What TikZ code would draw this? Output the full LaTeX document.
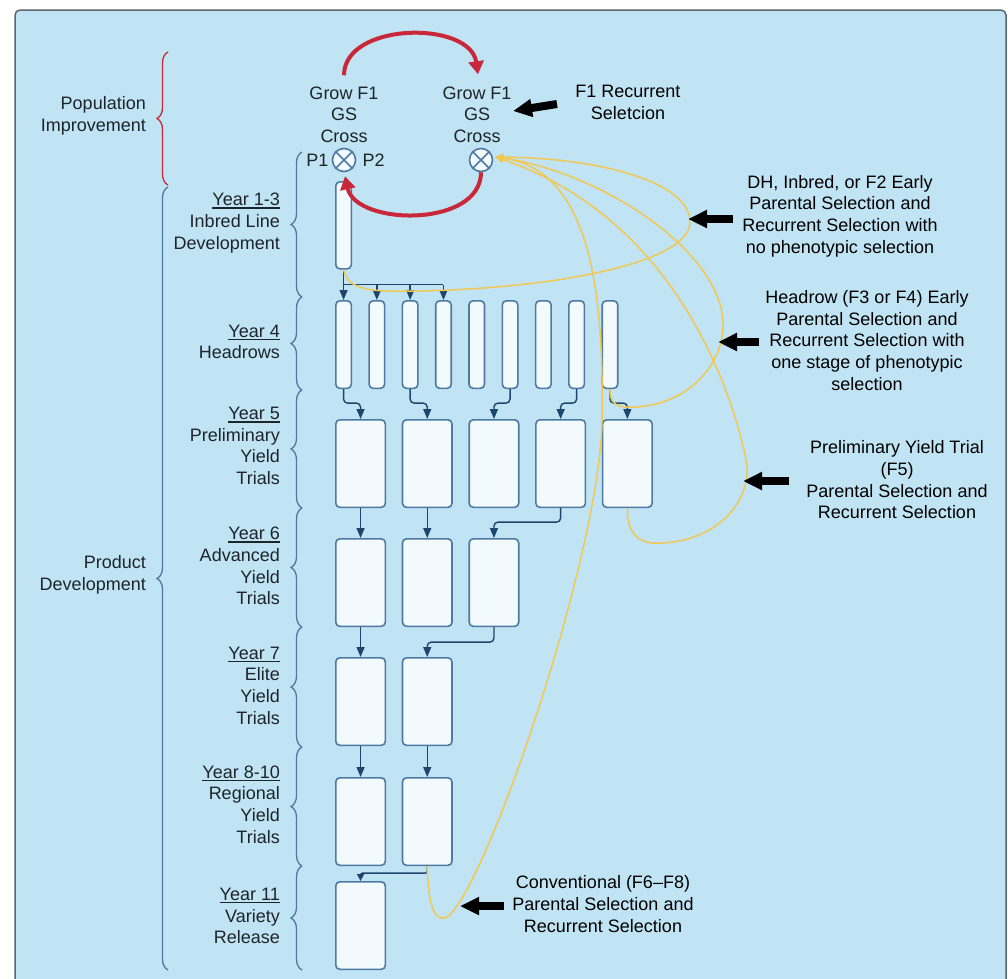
\documentclass[tikz,border=0pt]{standalone}
\usepackage{fontspec}
\setmainfont{Liberation Sans}
\usetikzlibrary{positioning,calc,arrows.meta,decorations.pathreplacing}

\definecolor{panelblue}{RGB}{192,228,244}
\definecolor{panelrim}{RGB}{92,102,110}
\definecolor{boxrim}{RGB}{78,122,162}
\definecolor{boxfill}{RGB}{243,250,254}
\definecolor{flowblue}{RGB}{30,70,108}
\definecolor{cyclered}{RGB}{201,40,58}
\definecolor{selgold}{RGB}{241,200,84}
\definecolor{labelink}{RGB}{30,36,44}

% underlined year heading
\newcommand\yearul[1]{\leavevmode\setbox0\hbox{#1}\rlap{\rule[-3pt]{\wd0}{1.3pt}}\box0}

\tikzset{
  lbl/.style={font=\fontsize{18}{21.7}\selectfont, text=labelink, inner sep=0pt, align=center},
  yearlbl/.style={lbl, align=right, anchor=east},
  notelbl/.style={lbl, text=black},
  trial/.style={draw=boxrim, line width=1.6pt, fill=boxfill, rounded corners=4pt,
                minimum width=49.5pt, minimum height=87.5pt, inner sep=0pt, anchor=north west},
  headrow/.style={trial, minimum width=15.5pt},
  crossnode/.style={circle, draw=boxrim, line width=1.6pt, fill=boxfill, minimum size=23pt, inner sep=0pt},
  flowline/.style={draw=flowblue, line width=1.4pt, rounded corners=4pt},
  flowarr/.style={flowline, -{Triangle[width=8pt,length=10pt]}},
  cyclearr/.style={draw=cyclered, line width=4pt, -{Triangle[width=15pt,length=13pt]}},
  selcurve/.style={draw=selgold, line width=1.5pt, -{Triangle[width=7pt,length=8pt]}},
  fatarr/.style={draw=black, line width=8pt, -{Triangle[width=17pt,length=19pt]}},
  stagebrace/.style={decorate, decoration={brace, amplitude=11pt}, draw=boxrim, line width=1.3pt},
}

\begin{document}
\begin{tikzpicture}[x=1pt,y=-1pt]
\path[use as bounding box] (0,0) rectangle (1008,978);
\clip (0,0) rectangle (1008,978);
\fill[white] (0,0) rectangle (1008,978);
% panel
\draw[fill=panelblue, draw=panelrim, line width=1.5pt, rounded corners=5pt] (15,10) rectangle (1006,995);

% braces
\draw[stagebrace, draw=cyclered] (168,185) -- (168,52);
\draw[stagebrace] (168,970) -- (168,187);
\foreach \lo/\hi in {297/152,390/297,508/390,627/508,747/627,866/747,970/866}
  \draw[stagebrace] (302,\lo) -- (302,\hi);

\node[yearlbl] (popimp) at (146,116) {Population\\Improvement};
\node[yearlbl] (proddev) at (146,575) {Product\\Development};

\node[yearlbl] (yr13) at (280,223) {\yearul{Year 1-3}\\Inbred Line\\Development};
\node[yearlbl] (yr4) at (280,342) {\yearul{Year 4}\\Headrows};
\node[yearlbl] (yr5) at (280,446) {\yearul{Year 5}\\Preliminary\\Yield\\Trials};
\node[yearlbl] (yr6) at (280,566) {\yearul{Year 6}\\Advanced\\Yield\\Trials};
\node[yearlbl] (yr7) at (280,685.5) {\yearul{Year 7}\\Elite\\Yield\\Trials};
\node[yearlbl] (yr810) at (280,804.5) {\yearul{Year 8-10}\\Regional\\Yield\\Trials};
\node[yearlbl] (yr11) at (280,916) {\yearul{Year 11}\\Variety\\Release};

% crosses
\node[lbl] (growA) at (344,114.5) {Grow F1\\GS\\Cross};
\node[lbl] (growB) at (477,114.5) {Grow F1\\GS\\Cross};
\node[crossnode] (crossA) at (344,160) {};
\node[crossnode] (crossB) at (481,160) {};
\foreach \c in {crossA,crossB}
  \draw[boxrim, line width=1.6pt] (\c.north west) -- (\c.south east) (\c.north east) -- (\c.south west);
\node[lbl, left=3pt of crossA] (parA) {P1};
\node[lbl, right=6pt of crossA] (parB) {P2};

% boxes
\node[headrow, minimum height=87pt] (inbred) at (335,181) {};
\foreach \i in {1,...,9}
  \node[headrow] (hr\i) at ({335+33.3*(\i-1)},300) {};
\foreach \i in {1,...,5}
  \node[trial] (pyt\i) at ({335+66.7*(\i-1)},419) {};
\foreach \i in {1,2,3}
  \node[trial] (adv\i) at ({335+66.7*(\i-1)},538) {};
\foreach \i in {1,2}
  \node[trial] (elite\i) at ({335+66.7*(\i-1)},657) {};
\foreach \i in {1,2}
  \node[trial] (reg\i) at ({335+66.7*(\i-1)},777) {};
\node[trial] (var1) at (335,881) {};

% flow between stages
\draw[flowarr] (inbred.south) -- (hr1.north);
\coordinate (bus) at ($(inbred.south)+(0,15)$);
\draw[flowline] (bus) -- (bus -| hr4.north);
\foreach \j in {2,3,4}
  \draw[flowarr] (bus -| hr\j.north) -- (hr\j.north);
\foreach \a/\b in {1/1,3/2,6/3,8/4,9/5}
  \draw[flowarr] (hr\a.south) -- ++(0,14) -| (pyt\b.north);
\draw[flowarr] (pyt1.south) -- (adv1.north);
\draw[flowarr] (pyt2.south) -- (adv2.north);
\draw[flowarr] (pyt4.south) -- ++(0,14) -| (adv3.north);
\draw[flowarr] (adv1.south) -- (elite1.north);
\draw[flowarr] (adv3.south) -- ++(0,15) -| (elite2.north);
\draw[flowarr] (elite1.south) -- (reg1.north);
\draw[flowarr] (elite2.south) -- (reg2.north);
\draw[flowline, rounded corners=2pt, -{Triangle[width=7pt,length=7pt]}] (reg2.south) -- ++(0,7) -| (var1.north);

% recurrent cycle
\draw[cyclearr] ($(growA.north)+(0,-11)$) .. controls (344,22) and (470,20) .. ($(growB.north)+(1,-12)$);
\draw[cyclearr] (crossB.south) .. controls (481,228) and (356,226) .. ($(crossA.south)+(1,4)$);

% selection routes back to the cross
\coordinate (gsin) at ($(crossB.east)+(2,-3)$);
\draw[selcurve] (inbred.south) .. controls (348,291) and (372,292) .. (420,291)
   .. controls (560,288) and (690,262) .. (690,222)
   .. controls (690,182) and (600,158) .. (gsin);
\draw[selcurve] (hr9.south) .. controls (610,404) and (616,408) .. (636,407)
   .. controls (690,404) and (725,362) .. (723,322)
   .. controls (720,250) and (600,172) .. (gsin);
\draw[selcurve] (pyt5.south) .. controls (627,535) and (640,545) .. (662,543)
   .. controls (720,540) and (750,500) .. (747,465)
   .. controls (735,400) and (680,220) .. (gsin);
\draw[selcurve] (reg2.south) .. controls (428,897) and (432,921) .. (445,918)
   .. controls (480,905) and (600,560) .. (602,420)
   .. controls (604,290) and (590,170) .. (gsin);

% notes
\node[notelbl] (noteF1) at (628,102.5) {F1 Recurrent\\Seletcion};
\node[notelbl] (noteDH) at (840,216) {DH, Inbred, or F2 Early\\Parental Selection and\\Recurrent Selection with\\no phenotypic selection};
\node[notelbl] (noteHR) at (867,340.5) {Headrow (F3 or F4) Early\\Parental Selection and\\Recurrent Selection with\\one stage of phenotypic\\selection};
\node[notelbl] (notePYT) at (897,480) {Preliminary Yield Trial\\(F5)\\Parental Selection and\\Recurrent Selection};
\node[notelbl] (noteCV) at (603,904) {Conventional (F6–F8)\\Parental Selection and\\Recurrent Selection};

\coordinate (f1tip) at (513,111);  \coordinate (f1tail) at (557,104);
\coordinate (dhtip) at (688,219);  \coordinate (dhtail) at (733,219);
\coordinate (hrtip) at (718,342);  \coordinate (hrtail) at (759,342);
\coordinate (pyttip) at (743,481); \coordinate (pyttail) at (789,481);
\coordinate (cvtip) at (460,906);  \coordinate (cvtail) at (504,906);
\foreach \p in {f1,dh,hr,pyt,cv}
  \draw[fatarr] (\p tail) -- (\p tip);
\end{tikzpicture}
\end{document}
